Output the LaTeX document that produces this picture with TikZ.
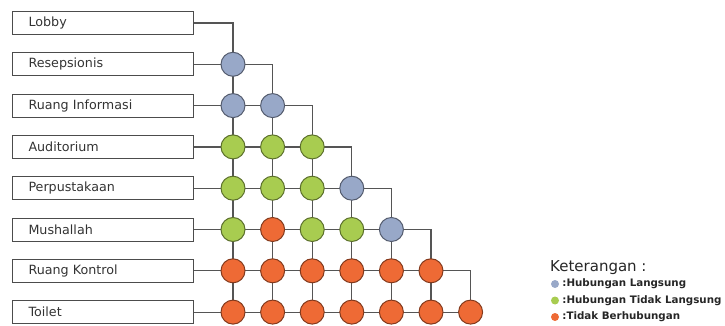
\documentclass[tikz,border=0pt]{standalone}
\usepackage{fontspec}
\setmainfont{DejaVu Sans}
\usetikzlibrary{positioning,backgrounds}
\definecolor{clDirect}{HTML}{98A8C8}
\definecolor{clIndirect}{HTML}{A8CC50}
\definecolor{clNone}{HTML}{EE6A35}
\definecolor{clLine}{HTML}{555555}
\tikzset{
  room/.style={rectangle, draw=black!70, line width=1pt, anchor=west, align=left,
               text width=149pt, inner xsep=16pt, inner ysep=0pt, minimum height=23pt,
               text=black!80, font=\fontsize{12.7}{14}\selectfont},
  rel/.style={circle, line width=1pt, minimum size=24pt, inner sep=0pt},
  direct/.style={rel, fill=clDirect, draw=clDirect!55!black},
  indirect/.style={rel, fill=clIndirect, draw=clIndirect!55!black},
  unrelated/.style={rel, fill=clNone, draw=clNone!55!black},
  link/.style={draw=clLine, line width=1.2pt},
  key/.style={circle, inner sep=0pt, minimum size=8pt},
  keytext/.style={inner sep=0pt, text=black!85, font=\bfseries\fontsize{10.3}{12}\selectfont},
}

\begin{document}
\begin{tikzpicture}[x=1pt, y=-1pt, node distance=3pt]
  \useasboundingbox (0,0) rectangle (725,326);
  % rooms
  \foreach \r/\name in {0/Lobby, 1/Resepsionis, 2/Ruang Informasi, 3/Auditorium,
                        4/Perpustakaan, 5/Mushallah, 6/Ruang Kontrol, 7/Toilet}
    \node[room] (r\r) at (12,{23+41.3*\r}) {\name};
  % relation matrix
  \foreach \r/\cl in {1/{direct}, 2/{direct,direct},
                      3/{indirect,indirect,indirect},
                      4/{indirect,indirect,indirect,direct},
                      5/{indirect,unrelated,indirect,indirect,direct},
                      6/{unrelated,unrelated,unrelated,unrelated,unrelated,unrelated},
                      7/{unrelated,unrelated,unrelated,unrelated,unrelated,unrelated,unrelated}}
    \foreach \s [count=\c from 0] in \cl
      \node[\s] (c\r-\c) at ({233+39.6*\c},{23+41.3*\r}) {};
  \begin{scope}[on background layer]
    \foreach \r in {0,...,6}
      \draw[link] (r\r.east) -| (c7-\r.center);
    \draw[link] (r7.east) -- (c7-6);
  \end{scope}
  % legend
  \node[anchor=base west, inner sep=0pt, text=black!85, font=\fontsize{15}{18}\selectfont]
    (keyhead) at (550,271) {Keterangan :};
  \node[key, fill=clDirect] (k1) at (555,284) {};
  \node[key, fill=clIndirect] (k2) at (555,300.5) {};
  \node[key, fill=clNone] (k3) at (555,317) {};
  \node[keytext, right=of k1] {:Hubungan Langsung};
  \node[keytext, right=of k2] {:Hubungan Tidak Langsung};
  \node[keytext, right=of k3] {:Tidak Berhubungan};
\end{tikzpicture}
\end{document}
